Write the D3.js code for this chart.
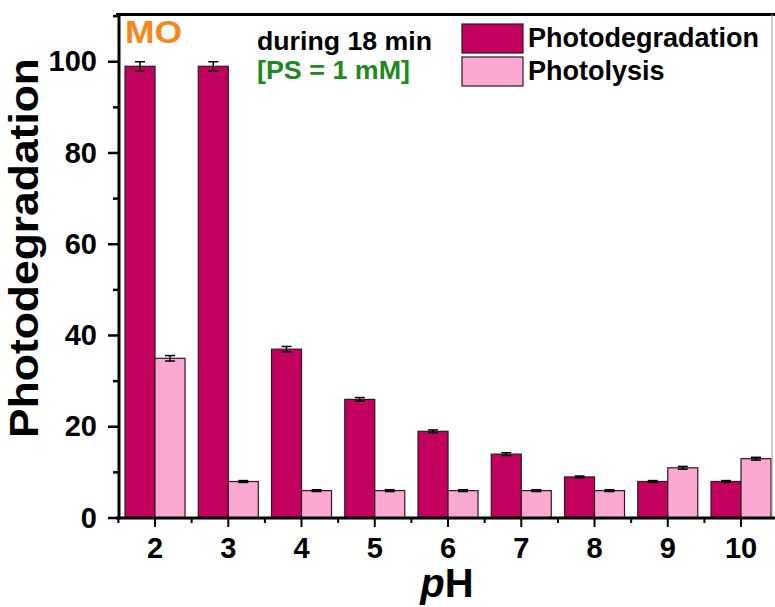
<!DOCTYPE html>
<html><head><meta charset="utf-8">
<script src="https://cdn.jsdelivr.net/npm/d3@7"></script>
<style>body{margin:0;background:#fff}svg{display:block}text{font-family:"Liberation Sans",Arial,sans-serif;font-weight:bold}</style>
</head><body><div id="chart"></div>
<script>
const categories = ["2","3","4","5","6","7","8","9","10"];
const photodegradation = [99, 99, 37, 26, 19, 14, 9, 8, 8];
const photodegradationErr = [1, 1, 0.6, 0.4, 0.3, 0.3, 0.2, 0.2, 0.2];
const photolysis = [35, 8, 6, 6, 6, 6, 6, 11, 13];
const photolysisErr = [0.6, 0.2, 0.2, 0.2, 0.2, 0.2, 0.2, 0.3, 0.3];
const yTicks = [0, 20, 40, 60, 80, 100];
const seriesNames = ["Photodegradation", "Photolysis"];
const colors = ["#C3005D", "#FBA8D2"];

const W = 775, H = 607;
const svg = d3.select("#chart").append("svg").attr("width", W).attr("height", H);

const x0 = 118.4, step = 73.25;
const x = d3.scaleBand().domain(categories).range([x0, x0 + step * categories.length]).paddingInner(0).paddingOuter(0);
const y = d3.scaleLinear().domain([0, 110]).range([518, 16.1]);
const barW = 30;

const g = svg.append("g");

[photodegradation, photolysis].forEach((vals, si) => {
  const errs = si === 0 ? photodegradationErr : photolysisErr;
  const cx = c => x(c) + x.bandwidth() / 2 + (si === 0 ? -barW : 0);
  g.selectAll(".bar" + si).data(categories).enter().append("rect")
    .attr("x", c => cx(c))
    .attr("y", (c, i) => y(vals[i]))
    .attr("width", barW)
    .attr("height", (c, i) => y(0) - y(vals[i]))
    .attr("fill", colors[si]).attr("stroke", "#2b1a22").attr("stroke-width", 1.2);
  const eg = g.selectAll(".err" + si).data(categories).enter().append("g");
  eg.append("line")
    .attr("x1", c => cx(c) + barW / 2).attr("x2", c => cx(c) + barW / 2)
    .attr("y1", (c, i) => y(vals[i] + errs[i])).attr("y2", (c, i) => y(vals[i] - errs[i]))
    .attr("stroke", "#000").attr("stroke-width", 1.5);
  [1, -1].forEach(s => {
    eg.append("line")
      .attr("x1", c => cx(c) + barW / 2 - 5).attr("x2", c => cx(c) + barW / 2 + 5)
      .attr("y1", (c, i) => y(vals[i] + s * errs[i])).attr("y2", (c, i) => y(vals[i] + s * errs[i]))
      .attr("stroke", "#000").attr("stroke-width", 1.5);
  });
});

// frame
svg.append("line").attr("x1", 116).attr("x2", W).attr("y1", 14.5).attr("y2", 14.5).attr("stroke", "#000").attr("stroke-width", 3);
svg.append("line").attr("x1", 772).attr("x2", 772).attr("y1", 14).attr("y2", 518).attr("stroke", "#999").attr("stroke-width", 1);

// y axis
const yAxis = svg.append("g").attr("transform", "translate(119,0)");
yAxis.append("line").attr("x1", 0).attr("x2", 0).attr("y1", 13).attr("y2", 519.5).attr("stroke", "#000").attr("stroke-width", 3);
d3.range(0, 111, 10).forEach(v => {
  const major = v % 20 === 0;
  yAxis.append("line").attr("x1", 0).attr("x2", major ? -11 : -6).attr("y1", y(v)).attr("y2", y(v))
    .attr("stroke", "#000").attr("stroke-width", 2.5);
});
yAxis.selectAll(".yt").data(yTicks).enter().append("text")
  .attr("x", -22).attr("y", v => y(v)).attr("dy", "0.33em").attr("text-anchor", "end")
  .attr("font-size", 29).text(d => d);

// x axis
const xAxis = svg.append("g").attr("transform", "translate(0,518)");
xAxis.append("line").attr("x1", 116).attr("x2", W).attr("y1", 0).attr("y2", 0).attr("stroke", "#000").attr("stroke-width", 3);
categories.forEach((c, i) => {
  const cx = x(c) + x.bandwidth() / 2;
  xAxis.append("line").attr("x1", cx).attr("x2", cx).attr("y1", 0).attr("y2", 9).attr("stroke", "#000").attr("stroke-width", 2);
  xAxis.append("line").attr("x1", x(c)).attr("x2", x(c)).attr("y1", 0).attr("y2", 5).attr("stroke", "#000").attr("stroke-width", 2);
});
xAxis.selectAll(".xt").data(categories).enter().append("text")
  .attr("x", c => x(c) + x.bandwidth() / 2).attr("y", 40).attr("text-anchor", "middle")
  .attr("font-size", 29).text(d => d);

// axis titles
const xt = svg.append("text").attr("x", 447).attr("y", 597).attr("text-anchor", "middle").attr("font-size", 40);
xt.append("tspan").attr("font-style", "italic").text("p");
xt.append("tspan").text("H");
svg.append("text").attr("transform", "translate(38,248) rotate(-90)").attr("text-anchor", "middle")
  .attr("font-size", 41).attr("textLength", 380).attr("lengthAdjust", "spacingAndGlyphs").text("Photodegradation");

// annotations
svg.append("text").attr("x", 125).attr("y", 43).attr("font-size", 31).attr("fill", "#F7861C")
  .attr("textLength", 57).attr("lengthAdjust", "spacingAndGlyphs").text("MO");
svg.append("text").attr("x", 257).attr("y", 50).attr("font-size", 25)
  .attr("textLength", 175).attr("lengthAdjust", "spacingAndGlyphs").attr("fill", "#000").text("during 18 min");
svg.append("text").attr("x", 257).attr("y", 79).attr("font-size", 25)
  .attr("textLength", 153).attr("lengthAdjust", "spacingAndGlyphs").attr("fill", "#1E8A1E").text("[PS = 1 mM]");

// legend
const lg = svg.append("g");
seriesNames.forEach((n, i) => {
  lg.append("rect").attr("x", 462).attr("y", 24 + i * 33).attr("width", 61).attr("height", 29)
    .attr("fill", colors[i]).attr("stroke", "#2b1a22").attr("stroke-width", 1.2);
  lg.append("text").attr("x", 528).attr("y", 47 + i * 33).attr("font-size", 27).text(n);
});
</script></body></html>
